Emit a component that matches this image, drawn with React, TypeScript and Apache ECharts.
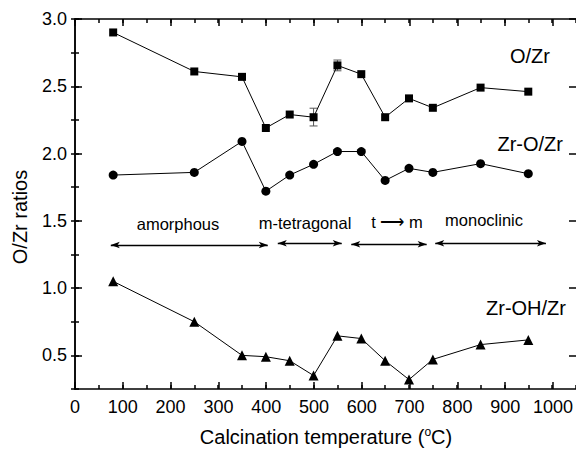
import React, { useEffect, useRef } from "react";
import * as echarts from "echarts";

const temps = [80, 250, 350, 400, 450, 500, 550, 600, 650, 700, 750, 850, 950];
const oZr = [2.9, 2.61, 2.57, 2.19, 2.29, 2.27, 2.655, 2.59, 2.27, 2.41, 2.34, 2.49, 2.46];
const zrOZr = [1.84, 1.86, 2.09, 1.72, 1.84, 1.92, 2.015, 2.015, 1.8, 1.89, 1.86, 1.925, 1.85];
const zrOHZr = [1.05, 0.75, 0.5, 0.49, 0.46, 0.35, 0.645, 0.625, 0.46, 0.32, 0.47, 0.58, 0.615];

const errX = [500, 550];
const errLow = [2.205, 2.615];
const errHigh = [2.337, 2.695];

const arrowStart = [75, 425, 579, 755];
const arrowEnd = [404, 559, 737, 987];
const arrowY = [1.32, 1.333, 1.326, 1.333];

const phaseLabels = ["amorphous", "m-tetragonal", "t \u27F6 m", "monoclinic"];
const seriesNames = ["O/Zr", "Zr-O/Zr", "Zr-OH/Zr"];

const FONT = "'Liberation Sans', Arial, sans-serif";
const AX = { color: "#000", width: 1.5 };

export default function App() {
  const ref = useRef<HTMLDivElement>(null);
  useEffect(() => {
    if (!ref.current) return;
    const chart = echarts.init(ref.current, undefined, { renderer: "svg" });
    const pair = (ys: number[]) => temps.map((t, i) => [t, ys[i]]);
    const lineSeries = (name: string, ys: number[], symbol: string, size: number) => ({
      name,
      type: "line",
      xAxisIndex: 0,
      yAxisIndex: 0,
      data: pair(ys),
      symbol,
      symbolSize: size,
      lineStyle: { color: "#000", width: 1 },
      itemStyle: { color: "#000", borderWidth: 0 },
      z: 3,
    });
    const txt = (text: string, x: number, y: number, size: number, align: string) => ({
      type: "text", x, y,
      style: { text, fontSize: size, fontFamily: FONT, fill: "#000", align, verticalAlign: "middle" },
    });
    const o: any = {
      animation: false,
      textStyle: { fontFamily: FONT },
      grid: [
        { left: 75, right: -1, top: 19, bottom: 62 },
        { left: 75, right: -1, top: 19, bottom: 95.64 },
        { left: 75, right: 22.9, top: 19, bottom: 62 },
      ],
      xAxis: [
        {
          gridIndex: 0, type: "value", min: 0, max: 1050, interval: 50, position: "bottom",
          axisLine: { lineStyle: AX }, axisTick: { inside: true, length: 4, lineStyle: AX },
          axisLabel: { show: false }, splitLine: { show: false },
        },
        {
          gridIndex: 0, type: "value", min: 0, max: 1050, interval: 50, position: "top",
          axisLine: { lineStyle: AX }, axisTick: { inside: true, length: 4, lineStyle: AX },
          axisLabel: { show: false }, splitLine: { show: false },
        },
        { gridIndex: 1, type: "value", min: 0, max: 1050, show: false },
        {
          gridIndex: 2, type: "value", min: 0, max: 1000, interval: 100, position: "bottom",
          axisLine: { show: false }, axisTick: { inside: true, length: 7, lineStyle: AX },
          axisLabel: { color: "#000", fontSize: 18, margin: 9, fontFamily: FONT, formatter: (v: number) => String(v) },
          splitLine: { show: false },
        },
        {
          gridIndex: 2, type: "value", min: 0, max: 1000, interval: 100, position: "top",
          axisLine: { show: false }, axisTick: { inside: true, length: 7, lineStyle: AX },
          axisLabel: { show: false }, splitLine: { show: false },
        },
      ],
      yAxis: [
        {
          gridIndex: 0, type: "value", min: 0.25, max: 3, interval: 0.25, position: "left",
          axisLine: { lineStyle: AX }, axisTick: { inside: true, length: 4, lineStyle: AX },
          axisLabel: { show: false }, splitLine: { show: false },
        },
        {
          gridIndex: 0, type: "value", min: 0.25, max: 3, interval: 0.25, position: "right",
          axisLine: { lineStyle: AX }, axisTick: { inside: true, length: 4, lineStyle: AX },
          axisLabel: { show: false }, splitLine: { show: false },
        },
        {
          gridIndex: 1, type: "value", min: 0.5, max: 3, interval: 0.5, position: "left",
          axisLine: { show: false }, axisTick: { inside: true, length: 7, lineStyle: AX },
          axisLabel: {
            color: "#000", fontSize: 18, margin: 8, fontFamily: FONT,
            formatter: (v: number) => v.toFixed(1),
          },
          splitLine: { show: false },
        },
        {
          gridIndex: 1, type: "value", min: 0.5, max: 3, interval: 0.5, position: "right",
          axisLine: { show: false }, axisTick: { inside: true, length: 7, lineStyle: AX },
          axisLabel: { show: false }, splitLine: { show: false },
        },
        { gridIndex: 2, type: "value", min: 0.25, max: 3, show: false },
      ],
      series: [
        {
          type: "custom",
          xAxisIndex: 0,
          yAxisIndex: 0,
          z: 2,
          data: errX.map((x, i) => [x, errLow[i], errHigh[i]]),
          renderItem: (_p: any, api: any) => {
            const x = api.value(0);
            const a = api.coord([x, api.value(1)]);
            const b = api.coord([x, api.value(2)]);
            const w = 4;
            const st = { stroke: "#555", lineWidth: 1 };
            return {
              type: "group",
              children: [
                { type: "line", shape: { x1: a[0], y1: a[1], x2: b[0], y2: b[1] }, style: st },
                { type: "line", shape: { x1: a[0] - w, y1: a[1], x2: a[0] + w, y2: a[1] }, style: st },
                { type: "line", shape: { x1: b[0] - w, y1: b[1], x2: b[0] + w, y2: b[1] }, style: st },
              ],
            };
          },
        },
        {
          ...lineSeries(seriesNames[0], oZr, "rect", 8),
          markLine: {
            silent: true,
            symbol: ["arrow", "arrow"],
            symbolSize: [5, 9],
            label: { show: false },
            lineStyle: { color: "#000", width: 1.3, type: "solid" },
            data: arrowStart.map((s, i) => [
              { coord: [s, arrowY[i]] },
              { coord: [arrowEnd[i], arrowY[i]] },
            ]),
          },
        },
        lineSeries(seriesNames[1], zrOZr, "circle", 9),
        lineSeries(seriesNames[2], zrOHZr, "triangle", 10),
      ],
      graphic: [
        txt(phaseLabels[0], 178, 224, 16.5, "center"),
        txt(phaseLabels[1], 305, 223, 16.5, "center"),
        txt(phaseLabels[2], 397, 222, 16.5, "center"),
        txt(phaseLabels[3], 484, 220, 16.5, "center"),
        txt(seriesNames[0], 550, 56, 20, "right"),
        txt(seriesNames[1], 563, 144, 20, "right"),
        txt(seriesNames[2], 566, 308, 20, "right"),
        {
          type: "text", x: 20, y: 217, rotation: Math.PI / 2,
          style: { text: "O/Zr ratios", fontSize: 20, fontFamily: FONT, fill: "#000", align: "center", verticalAlign: "middle" },
        },
        {
          type: "text", x: 326, y: 437,
          style: {
            text: "Calcination temperature ({sup|o}C)",
            fontSize: 20, fontFamily: FONT, fill: "#000", align: "center", verticalAlign: "middle",
            rich: { sup: { fontSize: 12, fontFamily: FONT, fill: "#000", padding: [0, 0, 10, 0] } },
          },
        },
      ],
    };
    chart.setOption(o);
    return () => chart.dispose();
  }, []);
  return <div ref={ref} style={{ width: 576, height: 451, position: "absolute", left: 0, top: 0 }} />;
}
